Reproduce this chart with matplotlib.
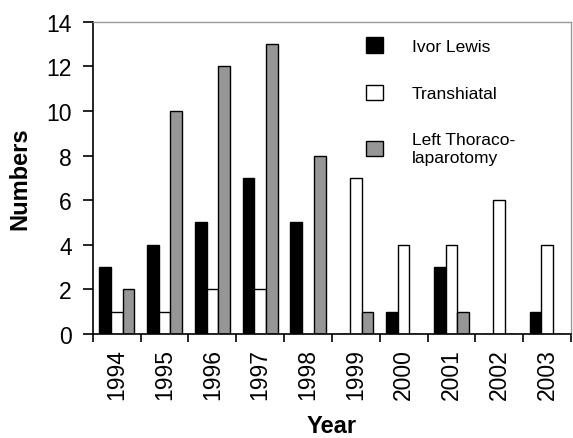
import matplotlib
matplotlib.use("Agg")
import matplotlib.pyplot as plt
import numpy as np

plt.rcParams['font.family'] = ['Liberation Sans', 'DejaVu Sans']

years = ["1994", "1995", "1996", "1997", "1998", "1999", "2000", "2001", "2002", "2003"]
ivor_lewis = [3, 4, 5, 7, 5, 0, 1, 3, 0, 1]
transhiatal = [1, 1, 2, 2, 0, 7, 4, 4, 6, 4]
left_thoraco = [2, 10, 12, 13, 8, 1, 0, 1, 0, 0]
series_labels = ["Ivor Lewis", "Transhiatal", "Left Thoraco-\nlaparotomy"]
series_colors = ["#000000", "#ffffff", "#969696"]

fig = plt.figure(figsize=(5.73, 4.39), dpi=100)
ax = fig.add_axes([0.162, 0.237, 0.8345, 0.711])

x = np.arange(len(years))
w = 0.245
handles = []
for k, (vals, col, lab) in enumerate(zip([ivor_lewis, transhiatal, left_thoraco], series_colors, series_labels)):
    h = ax.bar(x + (k - 1) * w, vals, width=w, color=col, edgecolor="black", linewidth=1.0, label=lab)
    handles.append(h)

ax.set_xlim(-0.5, len(years) - 0.5)
ax.set_ylim(0, 14)
ax.set_yticks(np.arange(0, 15, 2))
ax.set_xticks(np.arange(-0.5, len(years), 1.0))
ax.set_xticklabels([])
ax.set_xticks(x, minor=True)
ax.set_xticklabels(years, minor=True, rotation=90, fontsize=16.5)
ax.tick_params(axis="x", which="minor", length=0, pad=10)
ax.tick_params(axis="x", which="major", direction="out", length=6, width=1.2)
ax.tick_params(axis="y", direction="out", length=7, width=1.2, labelsize=16.5, pad=8)

for s in ["left", "bottom"]:
    ax.spines[s].set_color("black")
    ax.spines[s].set_linewidth(1.2)
for s in ["top", "right"]:
    ax.spines[s].set_color("#999999")
    ax.spines[s].set_linewidth(1.0)

ax.set_ylabel("Numbers", fontsize=17, fontweight="bold", labelpad=11)
ax.set_xlabel("Year", fontsize=17, fontweight="bold", labelpad=11)

leg = ax.legend(handles=handles, loc="upper left", bbox_to_anchor=(0.538, 1.0),
                frameon=False, fontsize=12.5, handlelength=1.0, handleheight=1.0,
                handletextpad=1.65, labelspacing=1.75)
for t in leg.get_texts():
    t.set_linespacing(1.3)

fig.savefig("out.png", dpi=100)
